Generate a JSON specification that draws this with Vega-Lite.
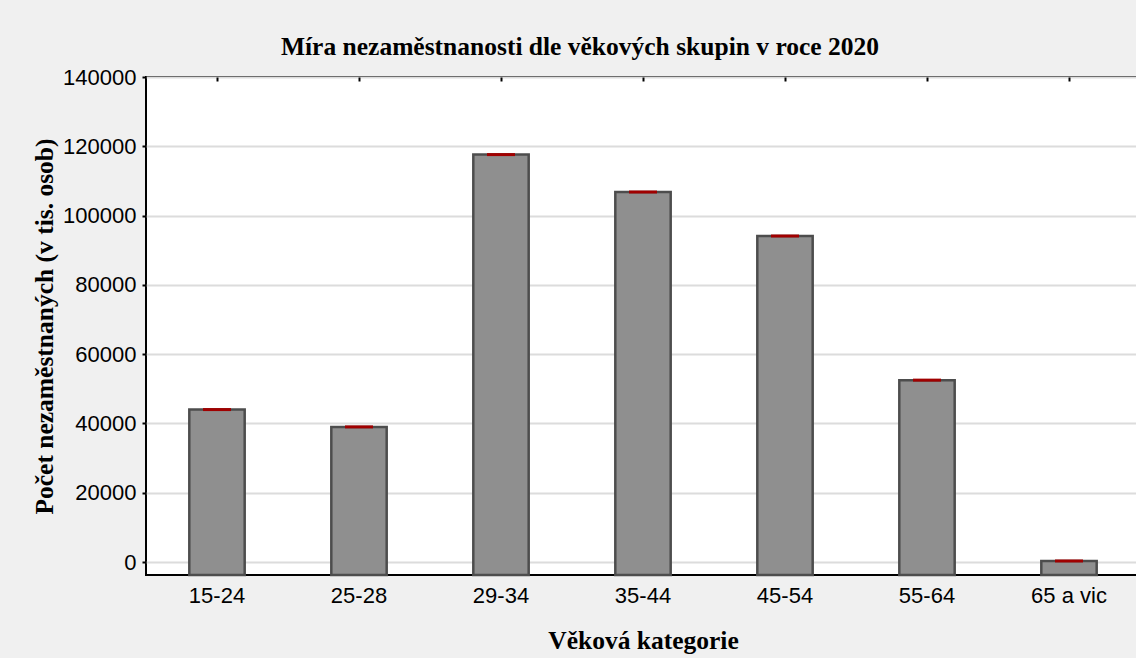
{
  "$schema": "https://vega.github.io/schema/vega-lite/v6.json",
  "autosize": "none",
  "padding": {"left": 146, "top": 77, "right": 0, "bottom": 83},
  "width": 994,
  "height": 498,
  "background": "#f0f0f0",
  "title": {
    "text": "Míra nezaměstnanosti dle věkových skupin v roce 2020",
    "font": "Liberation Serif",
    "fontSize": 25.5,
    "fontWeight": "bold",
    "color": "#000000",
    "anchor": "middle",
    "dx": -63,
    "offset": 6
  },
  "data": {
    "values": [
      {"kategorie": "15-24", "pocet": 44000},
      {"kategorie": "25-28", "pocet": 39000},
      {"kategorie": "29-34", "pocet": 117600},
      {"kategorie": "35-44", "pocet": 106800},
      {"kategorie": "45-54", "pocet": 94100},
      {"kategorie": "55-64", "pocet": 52500},
      {"kategorie": "65 a vic", "pocet": 300}
    ]
  },
  "encoding": {
    "x": {
      "field": "kategorie",
      "type": "nominal",
      "sort": null,
      "scale": {"paddingInner": 0, "paddingOuter": 0}
    },
    "y": {
      "field": "pocet",
      "type": "quantitative",
      "scale": {"domain": [-3750, 140000], "nice": false, "zero": false}
    }
  },
  "layer": [
    {
      "mark": {"type": "bar", "width": {"band": 0.39}, "fill": "#8f8f8f", "stroke": "#4d4d4d", "strokeWidth": 2.5},
      "encoding": {
        "x": {
          "field": "kategorie", "type": "nominal", "sort": null,
          "axis": {
            "orient": "bottom", "title": "Věková kategorie", "labelAngle": 0,
            "domain": false, "tickSize": -4, "tickColor": "#000000", "tickWidth": 2,
            "labelFont": "Liberation Sans", "labelFontSize": 22, "labelColor": "#000000",
            "labelPadding": 14,
            "titleFont": "Liberation Serif", "titleFontSize": 25.5, "titleFontWeight": "bold",
            "titleColor": "#000000", "titlePadding": 22
          }
        },
        "y": {
          "field": "pocet", "type": "quantitative",
          "axis": {
            "orient": "left", "title": "Počet nezaměstnaných (v tis. osob)",
            "values": [0, 20000, 40000, 60000, 80000, 100000, 120000, 140000],
            "format": "d", "domain": false,
            "grid": true, "gridColor": "#dcdcdc", "gridWidth": 2,
            "tickSize": 4, "tickColor": "#000000", "tickWidth": 2,
            "labelFont": "Liberation Sans", "labelFontSize": 22, "labelColor": "#000000",
            "labelPadding": 6,
            "titleFont": "Liberation Serif", "titleFontSize": 25.5, "titleFontWeight": "bold",
            "titleColor": "#000000", "titlePadding": 5
          }
        },
        "y2": {"datum": -3750}
      }
    },
    {
      "mark": {"type": "tick", "color": "#a00000", "size": 28, "thickness": 3, "opacity": 1},
      "encoding": {
        "x": {
          "field": "kategorie", "type": "nominal", "sort": null,
          "axis": {"orient": "top", "title": null, "labels": false, "domain": false,
                   "tickSize": -4, "tickColor": "#000000", "tickWidth": 2}
        },
        "y": {
          "field": "pocet", "type": "quantitative",
          "axis": {"orient": "right", "title": null, "labels": false, "domain": false, "grid": false,
                   "values": [0, 20000, 40000, 60000, 80000, 100000, 120000, 140000],
                   "tickSize": -4, "tickColor": "#000000", "tickWidth": 2}
        }
      }
    }
  ],
  "resolve": {"axis": {"x": "independent", "y": "independent"}},
  "config": {
    "view": {"stroke": "#000000", "strokeWidth": 2, "fill": "#ffffff"},
    "font": "Liberation Sans"
  }
}
